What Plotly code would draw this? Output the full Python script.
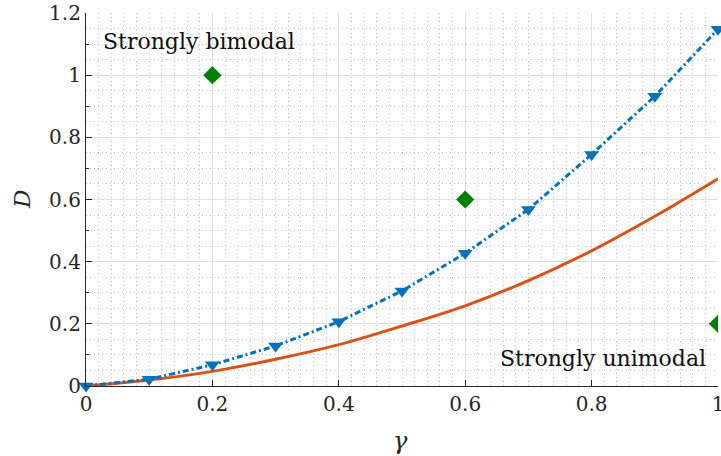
import plotly.graph_objects as go

gamma = [0.0, 0.1, 0.2, 0.3, 0.4, 0.5, 0.6, 0.7, 0.8, 0.9, 1.0]
d_blue = [0.0, 0.022, 0.068, 0.129, 0.207, 0.306, 0.427, 0.568, 0.745, 0.932, 1.148]
d_orange = [0.0, 0.019, 0.047, 0.086, 0.133, 0.193, 0.258, 0.339, 0.435, 0.546, 0.667]
pts_x = [0.2, 0.6, 1.0]
pts_y = [1.0, 0.6, 0.2]
x_ticks = [0, 0.2, 0.4, 0.6, 0.8, 1]
x_labels = ["0", "0.2", "0.4", "0.6", "0.8", "1"]
y_ticks = [0, 0.2, 0.4, 0.6, 0.8, 1, 1.2]
y_labels = ["0", "0.2", "0.4", "0.6", "0.8", "1", "1.2"]

FONT = "DejaVu Serif"
AX = "#262626"

fig = go.Figure()
fig.add_trace(go.Scatter(x=gamma, y=d_orange, mode="lines", line=dict(color="#D95319", width=3, shape="spline"),
                         showlegend=False, hoverinfo="skip"))
fig.add_trace(go.Scatter(x=gamma, y=d_blue, mode="lines+markers",
                         line=dict(color="#0072BD", width=3, dash="6px,3px,2px,3px"),
                         marker=dict(symbol="triangle-down", size=13, color="#0072BD"),
                         showlegend=False, cliponaxis=False))
fig.add_trace(go.Scatter(x=pts_x, y=pts_y, mode="markers",
                         marker=dict(symbol="diamond", size=14, color="#008000"),
                         showlegend=False, cliponaxis=True))
fig.add_trace(go.Scatter(x=[0.5], y=[0.5], yaxis="y2", mode="markers", marker=dict(opacity=0), showlegend=False, hoverinfo="skip"))

fig.update_layout(
    width=721, height=456,
    margin=dict(l=86, r=3, t=13, b=70, autoexpand=False),
    plot_bgcolor="white", paper_bgcolor="white",
    font=dict(family=FONT, size=20, color=AX),
    xaxis=dict(range=[0, 1], tickvals=x_ticks, ticktext=x_labels, ticks="inside", ticklen=6, tickcolor=AX,
               showline=True, linecolor=AX, linewidth=1.2, showgrid=True, gridcolor="#e0e0e0", gridwidth=1,
               zeroline=False, tickfont=dict(size=20, family=FONT, color=AX), ticklabeloverflow="allow",
               automargin=False,
               minor=dict(dtick=0.02, showgrid=True, gridcolor="#c4c4c4", griddash="1px,3px", gridwidth=1, ticks="")),
    yaxis=dict(range=[0, 1.2], tickvals=y_ticks, ticktext=y_labels, ticks="inside", ticklen=6, tickcolor=AX,
               showline=True, linecolor=AX, linewidth=1.2, showgrid=True, gridcolor="#e0e0e0", gridwidth=1,
               zeroline=False, tickfont=dict(size=20, family=FONT, color=AX), ticklabeloverflow="allow",
               automargin=False,
               minor=dict(dtick=0.05, showgrid=True, gridcolor="#c4c4c4", griddash="1px,3px", gridwidth=1, ticks="")),
    yaxis2=dict(range=[0, 1.2], overlaying="y", side="left", showgrid=False, zeroline=False, showline=False,
                showticklabels=False, ticks="inside", ticklen=3, tickcolor=AX, dtick=0.1, tick0=0, automargin=False),
)

W, H, L, R, T, B = 721, 456, 86, 3, 13, 70
pw, ph = W - L - R, H - T - B

fig.add_annotation(x=0.024, y=1.109, xref="x", yref="y", text="Strongly bimodal", showarrow=False,
                   xanchor="left", yanchor="middle", font=dict(family=FONT, size=22, color="#111111"))
fig.add_annotation(x=0.984, y=0.087, xref="x", yref="y", text="Strongly unimodal", showarrow=False,
                   xanchor="right", yanchor="middle", font=dict(family=FONT, size=22, color="#111111"))
fig.add_annotation(x=(400 - L) / pw, y=(H - B - 441) / ph, xref="paper", yref="paper", text="<i>γ</i>",
                   showarrow=False, xanchor="center", yanchor="middle", font=dict(family=FONT, size=24, color=AX))
fig.add_annotation(x=(22 - L) / pw, y=(H - B - 200) / ph, xref="paper", yref="paper", text="<i>D</i>",
                   showarrow=False, textangle=-90, xanchor="center", yanchor="middle",
                   font=dict(family=FONT, size=23, color=AX))

fig.write_html("out.html")
